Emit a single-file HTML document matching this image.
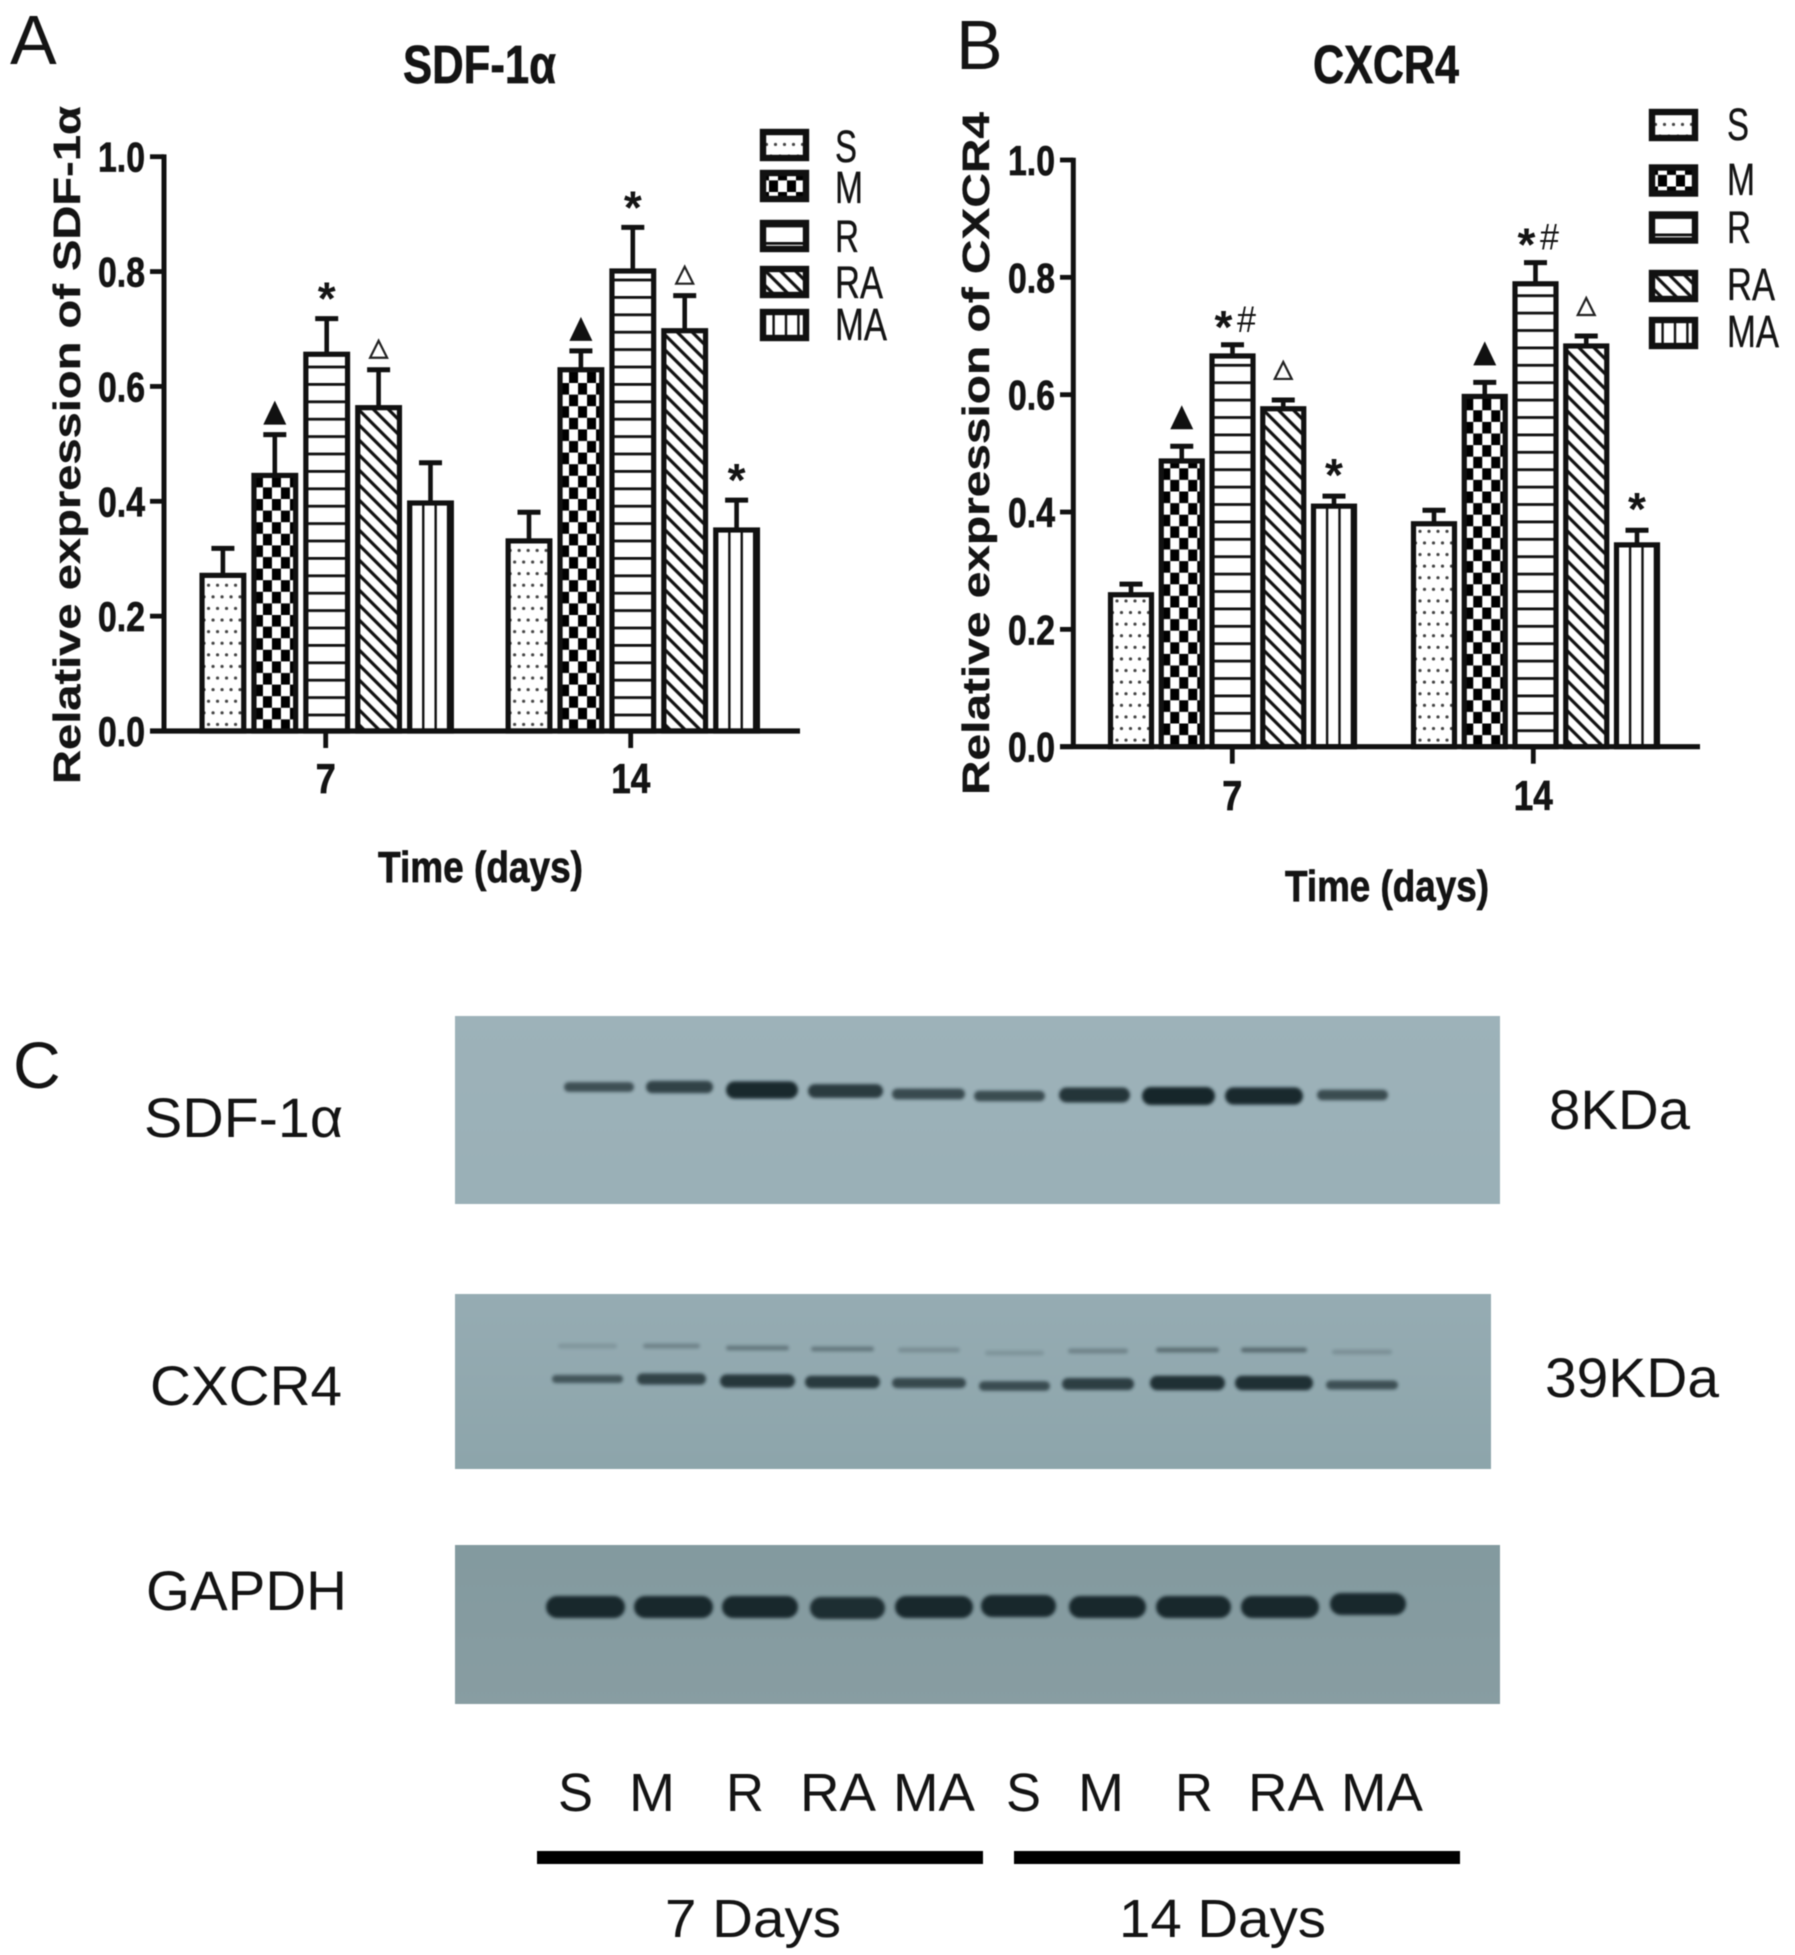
<!DOCTYPE html>
<html lang="en">
<head>
<meta charset="utf-8">
<title>SDF-1α and CXCR4 expression</title>
<style>
html,body{margin:0;padding:0;background:#fff;width:1795px;height:1955px;overflow:hidden}
svg{display:block;filter:blur(.5px)}
text{font-family:"Liberation Sans","DejaVu Sans",sans-serif;fill:#141414}
.heavy{stroke:#141414;stroke-width:.7px}
.medium{stroke:#141414;stroke-width:.35px}
</style>
</head>
<body>
<svg id="figure" xmlns="http://www.w3.org/2000/svg" width="1795" height="1955" viewBox="0 0 1795 1955">
  <defs id="defs">
    <filter id="soft" x="-10%" y="-100%" width="120%" height="300%"><feGaussianBlur stdDeviation="1.5"/></filter>
    <filter id="softer" x="-10%" y="-150%" width="120%" height="400%"><feGaussianBlur stdDeviation="2"/></filter>
    <linearGradient id="blot-top-bg" x1="0" y1="0" x2="0" y2="1"><stop offset="0" stop-color="#9db2b9"/><stop offset="1" stop-color="#9ab0b7"/></linearGradient>
    <linearGradient id="blot-mid-bg" x1="0" y1="0" x2="0" y2="1"><stop offset="0" stop-color="#96acb3"/><stop offset="1" stop-color="#8da5ab"/></linearGradient>
    <linearGradient id="blot-bot-bg" x1="0" y1="0" x2="0" y2="1"><stop offset="0" stop-color="#839a9f"/><stop offset="1" stop-color="#889da2"/></linearGradient>
  </defs>

  <g id="panel-a"></g>
  <g id="panel-b"></g>

  <text x="10" y="64" font-size="70">A</text>
  <text x="956" y="69" font-size="70">B</text>
  <text x="13" y="1088" font-size="66">C</text>

  <g id="panel-c">
    <rect x="455" y="1016" width="1045" height="188" fill="url(#blot-top-bg)"/>
    <rect x="455" y="1294" width="1036" height="175" fill="url(#blot-mid-bg)"/>
    <rect x="455" y="1545" width="1045" height="159" fill="url(#blot-bot-bg)"/>
    <g id="bands"></g>
    <text x="144" y="1137" font-size="56" textLength="199" lengthAdjust="spacingAndGlyphs">SDF-1α</text>
    <text x="150" y="1405" font-size="56" textLength="192" lengthAdjust="spacingAndGlyphs">CXCR4</text>
    <text x="146" y="1610" font-size="56" textLength="201" lengthAdjust="spacingAndGlyphs">GAPDH</text>
    <text x="1549" y="1129" font-size="56" textLength="141" lengthAdjust="spacingAndGlyphs">8KDa</text>
    <text x="1545" y="1397" font-size="56" textLength="174" lengthAdjust="spacingAndGlyphs">39KDa</text>
    <g id="lanes"></g>
    <rect x="537" y="1851" width="446" height="13" fill="#000"/>
    <rect x="1014" y="1851" width="446" height="13" fill="#000"/>
    <text x="665" y="1937" font-size="54" textLength="176" lengthAdjust="spacingAndGlyphs">7 Days</text>
    <text x="1119" y="1937" font-size="54" textLength="207" lengthAdjust="spacingAndGlyphs">14 Days</text>
  </g>
</svg>

<script>
// ---------- chart data ----------
const seriesNames = ['S', 'M', 'R', 'RA', 'MA'];
const dayLabels = ['7', '14'];
const yTickValues = [0, 0.2, 0.4, 0.6, 0.8, 1.0];
const yTickLabels = ['0.0', '0.2', '0.4', '0.6', '0.8', '1.0'];

const sdfDay7 = [0.271, 0.445, 0.656, 0.563, 0.397];
const sdfDay14 = [0.331, 0.629, 0.801, 0.697, 0.350];
const sdfDay7Upper = [0.318, 0.516, 0.718, 0.629, 0.467];
const sdfDay14Upper = [0.381, 0.662, 0.877, 0.758, 0.402];
const sdfDay7Marks = ['', 'up', 'star', 'open', ''];
const sdfDay14Marks = ['', 'up', 'star', 'open', 'star'];

const cxcrDay7 = [0.259, 0.487, 0.666, 0.576, 0.410];
const cxcrDay14 = [0.380, 0.597, 0.789, 0.683, 0.344];
const cxcrDay7Upper = [0.277, 0.512, 0.685, 0.591, 0.427];
const cxcrDay14Upper = [0.403, 0.621, 0.825, 0.700, 0.369];
const cxcrDay7Marks = ['', 'up', 'starhash', 'open', 'star'];
const cxcrDay14Marks = ['', 'up', 'starhash', 'open', 'star'];

// ---------- blot band strengths ----------
const sdfBandStrength = [0.45, 0.62, 0.95, 0.72, 0.52, 0.5, 0.8, 1.0, 0.95, 0.5];
const cxcrLowerStrength = [0.42, 0.68, 0.85, 0.8, 0.6, 0.55, 0.75, 0.95, 0.95, 0.5];
const cxcrUpperStrength = [0.06, 0.2, 0.28, 0.28, 0.12, 0.07, 0.2, 0.35, 0.38, 0.1];
const gapdhStrength = [1, 1, 1, 0.95, 1, 1, 1, 1, 1, 1];
const laneLabels = ['S', 'M', 'R', 'RA', 'MA', 'S', 'M', 'R', 'RA', 'MA'];

// ---------- helpers ----------
const NS = 'http://www.w3.org/2000/svg';
function make(tag, attrs, parent) {
  const node = document.createElementNS(NS, tag);
  for (const k in attrs) node.setAttribute(k, attrs[k]);
  if (parent) parent.appendChild(node);
  return node;
}
const defs = document.getElementById('defs');
let patternCount = 0;

function makePattern(kind, ox, oy) {
  const id = 'fill-' + kind + '-' + (patternCount++);
  let w = 10, h = 10;
  if (kind === 'S') { w = 18; h = 23.2; }
  if (kind === 'M') { w = 18; h = 23.2; }
  if (kind === 'R') { w = 20; h = 17.4; }
  if (kind === 'RA') { w = 10.6; h = 10.6; }
  if (kind === 'MA') { w = 12.4; h = 20; }
  const attrs = { id: id, patternUnits: 'userSpaceOnUse', width: w, height: h, x: ox, y: oy };
  if (kind === 'RA') {
    attrs.x = 0;
    attrs.y = 0;
    attrs.patternTransform = 'translate(' + ox + ' ' + oy + ') rotate(-45)';
  }
  const p = make('pattern', attrs, defs);
  make('rect', { width: w, height: h, fill: '#fff' }, p);
  if (kind === 'S') {
    [[2, 5], [11, 5], [6.5, 16.6], [15.5, 16.6]].forEach(function (c) {
      make('circle', { cx: c[0], cy: c[1], r: 1.6, fill: '#444' }, p);
    });
  }
  if (kind === 'M') {
    make('rect', { x: 0, y: 0, width: 9, height: 11.6, fill: '#000' }, p);
    make('rect', { x: 9, y: 11.6, width: 9, height: 11.6, fill: '#000' }, p);
  }
  if (kind === 'R') make('rect', { x: 0, y: 0, width: 20, height: 2.8, fill: '#111' }, p);
  if (kind === 'RA') make('rect', { x: 3.7, y: 0, width: 3.2, height: 10.6, fill: '#111' }, p);
  if (kind === 'MA') make('rect', { x: 0, y: 0, width: 2.4, height: 20, fill: '#111' }, p);
  return id;
}

// ---------- panel geometry ----------
const panels = [
  {
    root: 'panel-a', prefix: 'sdf1a',
    yZero: 731, yOne: 156.7, axisX: 164, axisLeft: 150, axisRight: 800,
    dayX: [326.7, 632.8], tickX: [325.7, 630.7], pitch: 51.9, barW: 41.7,
    tickLabelX: 98, tickLabelW: 47, xLabelBase: 793,
    day: [sdfDay7, sdfDay14], upper: [sdfDay7Upper, sdfDay14Upper], marks: [sdfDay7Marks, sdfDay14Marks],
    gaps: { up: 10, open: 11, star: 30, starhash: 28 },
    title: 'SDF-1α', titleX: 403, titleW: 153, titleY: 83,
    yTitle: 'Relative expression of SDF-1α', yTitleX: 80, yTitleTop: 106, yTitleBottom: 784,
    xTitleX: 378, xTitleW: 205, xTitleY: 882,
    legendX: 760, legendTextX: 835,
    legendY: [145, 186, 236, 282, 325],
    legendBase: [162, 203, 252, 298, 340]
  },
  {
    root: 'panel-b', prefix: 'cxcr4',
    yZero: 746.7, yOne: 160, axisX: 1073.3, axisLeft: 1060, axisRight: 1700,
    dayX: [1232.5, 1535.5], tickX: [1232.3, 1533.3], pitch: 50.75, barW: 41,
    tickLabelX: 1008, tickLabelW: 47, xLabelBase: 810,
    day: [cxcrDay7, cxcrDay14], upper: [cxcrDay7Upper, cxcrDay14Upper], marks: [cxcrDay7Marks, cxcrDay14Marks],
    gaps: { up: 17, open: 20, star: 31, starhash: 28 },
    title: 'CXCR4', titleX: 1313, titleW: 146, titleY: 83,
    yTitle: 'Relative expression of CXCR4', yTitleX: 989, yTitleTop: 112, yTitleBottom: 795,
    xTitleX: 1285, xTitleW: 204, xTitleY: 901,
    legendX: 1649, legendTextX: 1727,
    legendY: [125, 180.5, 227.5, 286, 333],
    legendBase: [140, 195, 243, 300, 347]
  }
];
const legendWidths = [22, 28, 24, 48, 52];

function drawPanel(p) {
  const root = document.getElementById(p.root);
  const yScale = function (v) { return p.yZero - v * (p.yZero - p.yOne); };
  const barX = function (g, s) { return p.dayX[g] + (s - 2) * p.pitch; };

  // bars, error bars, significance marks
  p.day.forEach(function (vals, g) {
    vals.forEach(function (v, s) {
      const cx = barX(g, s);
      const top = yScale(v);
      const cap = yScale(p.upper[g][s]);

      const stem = make('line', { x1: cx, x2: cx, y1: top, y2: cap, stroke: '#111', 'stroke-width': 4.6 }, root);
      
      

      const capLine = make('line', { x1: cx - 11.5, x2: cx + 11.5, y1: cap, y2: cap, stroke: '#111', 'stroke-width': 5 }, root);
      
      

      const fillId = makePattern(seriesNames[s], cx - p.barW / 2, p.yZero);
      const bar = make('rect', {
        x: cx - p.barW / 2, y: top, width: p.barW, height: p.yZero - top,
        fill: 'url(#' + fillId + ')', stroke: '#111', 'stroke-width': 5.2
      }, root);
      
      

      const kind = p.marks[g][s];
      if (kind === 'up') {
        const b = cap - p.gaps.up;
        const tri = make('polygon', { points: (cx - 11.5) + ',' + b + ' ' + (cx + 11.5) + ',' + b + ' ' + cx + ',' + (b - 24), fill: '#111' }, root);
        
        
      }
      if (kind === 'open') {
        const b = cap - p.gaps.open;
        const tri = make('polygon', { points: (cx - 8.5) + ',' + (b - 1) + ' ' + (cx + 8.5) + ',' + (b - 1) + ' ' + cx + ',' + (b - 18), fill: '#fff', stroke: '#222', 'stroke-width': 2.2 }, root);
        
        
      }
      if (kind === 'star' || kind === 'starhash') {
        const shift = kind === 'starhash' ? -9 : 0;
        const star = make('text', { x: cx + shift, y: cap - p.gaps[kind] + 26, 'font-size': 46, 'font-weight': 'bold', 'text-anchor': 'middle' }, root);
        star.textContent = '*';
        
        
      }
      if (kind === 'starhash') {
        const hash = make('text', { x: cx + 14, y: cap - 13, 'font-size': 37, 'text-anchor': 'middle', textLength: 19, lengthAdjust: 'spacingAndGlyphs' }, root);
        hash.textContent = '#';
        
        
      }
    });
  });

  // axes
  const yAxis = make('line', { x1: p.axisX, x2: p.axisX, y1: yScale(1) - 2.3, y2: p.yZero, stroke: '#111', 'stroke-width': 5 }, root);
  
  

  const xAxis = make('line', { x1: p.axisLeft, x2: p.axisRight, y1: p.yZero, y2: p.yZero, stroke: '#111', 'stroke-width': 5.2 }, root);
  
  

  yTickValues.forEach(function (v, i) {
    const ty = yScale(v);
    const tick = make('line', { x1: p.axisLeft, x2: p.axisX, y1: ty, y2: ty, stroke: '#111', 'stroke-width': 4.8 }, root);
    
    

    const lab = make('text', { x: p.tickLabelX, y: ty + 15, 'font-size': 42, 'font-weight': 'bold', 'class': 'heavy', textLength: p.tickLabelW, lengthAdjust: 'spacingAndGlyphs' }, root);
    lab.textContent = yTickLabels[i];
    
    
  });

  dayLabels.forEach(function (d, g) {
    const tx = p.tickX[g];
    const tick = make('line', { x1: tx, x2: tx, y1: p.yZero, y2: p.yZero + 17, stroke: '#111', 'stroke-width': 4.8 }, root);
    
    

    const lab = make('text', { x: tx, y: p.xLabelBase, 'font-size': 42, 'font-weight': 'bold', 'class': 'heavy', 'text-anchor': 'middle', textLength: g ? 39 : 20, lengthAdjust: 'spacingAndGlyphs' }, root);
    lab.textContent = d;
    
    
  });

  // titles
  const title = make('text', { x: p.titleX, y: p.titleY, 'font-size': 54, 'font-weight': 'bold', 'class': 'heavy', textLength: p.titleW, lengthAdjust: 'spacingAndGlyphs' }, root);
  title.textContent = p.title;
  
  

  const yTitle = make('text', {
    x: 0, y: 0, 'font-size': 38, 'font-weight': 'bold', 'class': 'medium',
    textLength: p.yTitleBottom - p.yTitleTop, lengthAdjust: 'spacingAndGlyphs',
    transform: 'translate(' + p.yTitleX + ' ' + p.yTitleBottom + ') rotate(-90)'
  }, root);
  yTitle.textContent = p.yTitle;
  
  

  const xTitle = make('text', { x: p.xTitleX, y: p.xTitleY, 'font-size': 44, 'font-weight': 'bold', 'class': 'heavy', textLength: p.xTitleW, lengthAdjust: 'spacingAndGlyphs' }, root);
  xTitle.textContent = 'Time (days)';
  
  

  // legend
  seriesNames.forEach(function (name, s) {
    const ly = p.legendY[s];
    const fillId = makePattern(name, p.legendX, ly + 6);
    const swatch = make('rect', { x: p.legendX + 3, y: ly - 13, width: 43, height: 26, fill: 'url(#' + fillId + ')', stroke: '#111', 'stroke-width': 6.4 }, root);
    
    

    const lab = make('text', { x: p.legendTextX, y: p.legendBase[s], 'font-size': 45, 'class': 'medium', textLength: legendWidths[s], lengthAdjust: 'spacingAndGlyphs' }, root);
    lab.textContent = name;
    
    
  });
}
panels.forEach(drawPanel);

// ---------- western blot bands ----------
const bandsRoot = document.getElementById('bands');
const sdfLaneL = [564, 646, 726, 808, 892, 974, 1059, 1142, 1225, 1317];
const sdfLaneR = [634, 713, 798, 883, 965, 1045, 1130, 1215, 1303, 1388];
const sdfLaneY = [1087, 1087, 1090, 1091, 1094, 1096, 1095, 1096, 1096, 1095];
const cxLaneL = [552, 637, 720, 805, 892, 979, 1062, 1150, 1235, 1326];
const cxLaneR = [623, 706, 795, 880, 966, 1050, 1134, 1225, 1313, 1398];
const cxLaneY = [1379, 1379, 1381, 1382, 1383, 1386, 1384, 1383, 1383, 1385];
const gapL = [546, 634, 722, 810, 895, 981, 1069, 1156, 1241, 1330];
const gapR = [625, 713, 798, 885, 973, 1056, 1146, 1231, 1319, 1406];
const gapY = [1607, 1607, 1607, 1608, 1607, 1606, 1607, 1607, 1607, 1604];

function band(cx0, cx1, cy, thick, opacity, name) {
  const e = make('rect', {
    x: cx0, y: cy - thick / 2, width: cx1 - cx0, height: thick, rx: thick / 2, ry: thick / 2,
    fill: '#16252c', opacity: opacity, filter: 'url(#soft)'
  }, bandsRoot);
  
  
}
sdfBandStrength.forEach(function (k, i) {
  band(sdfLaneL[i], sdfLaneR[i], sdfLaneY[i], 3 + 15 * k, 0.45 + 0.55 * k, 'sdf1a-band');
});
cxcrLowerStrength.forEach(function (k, i) {
  band(cxLaneL[i], cxLaneR[i], cxLaneY[i], 3 + 12 * k, 0.4 + 0.55 * k, 'cxcr4-lower-band');
});
cxcrUpperStrength.forEach(function (k, i) {
  band(cxLaneL[i] + 6, cxLaneR[i] - 6, cxLaneY[i] - 33, 5, k + 0.08, 'cxcr4-upper-band');
});
gapdhStrength.forEach(function (k, i) {
  band(gapL[i], gapR[i], gapY[i], 22, 0.98 * k, 'gapdh-band');
});

// ---------- lane labels ----------
const lanesRoot = document.getElementById('lanes');
const laneStart = [558, 629, 726, 800, 893, 1006, 1078, 1175, 1248, 1341];
const laneWidth = [35, 46, 38, 76, 82, 35, 46, 38, 76, 82];
laneLabels.forEach(function (name, i) {
  const t = make('text', { x: laneStart[i], y: 1811, 'font-size': 54, textLength: laneWidth[i], lengthAdjust: 'spacingAndGlyphs' }, lanesRoot);
  t.textContent = name;
  
  
});
</script>
</body>
</html>
